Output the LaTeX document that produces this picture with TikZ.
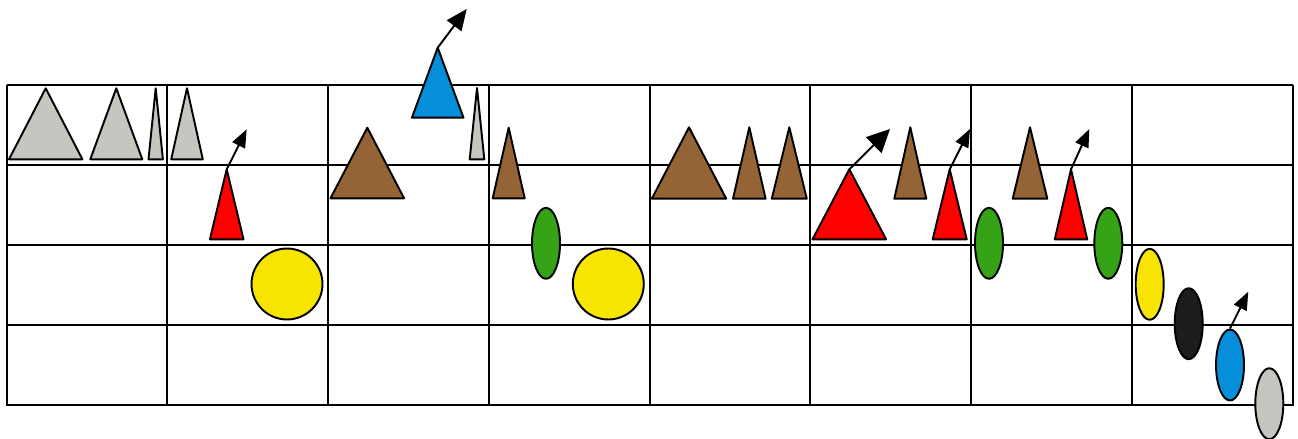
\documentclass[tikz,border=0pt]{standalone}
\usepackage{tikz}
\usetikzlibrary{arrows.meta, shapes.geometric}
\definecolor{stone}{RGB}{198,197,192}
\definecolor{bark}{RGB}{148,99,54}
\definecolor{sky}{RGB}{5,142,217}
\definecolor{leaf}{RGB}{54,163,23}
\definecolor{sun}{RGB}{247,228,0}
\definecolor{coal}{RGB}{28,28,28}
% colour, name, apex x, apex y, half width, base y
\newcommand{\cone}[6]{%
  \coordinate (#2) at (#3,#4);
  \draw[piece, fill=#1] (#2) -- (#3+#5,#6) -- (#3-#5,#6) -- cycle;}

\begin{document}
\begin{tikzpicture}[x=0.02cm, y=-0.02cm,
    piece/.style={line width=1.1pt, line join=round},
    gridline/.style={line width=1.1pt},
    egg/.style={ellipse, draw, piece, inner sep=0pt, minimum width=0.56cm, minimum height=1.42cm},
    ball/.style={circle, draw, piece, inner sep=0pt, minimum size=1.42cm},
    pointer/.style={line width=1.1pt, -{Triangle[length=0.36cm, width=0.28cm]}},
    bigpointer/.style={line width=1.1pt, -{Triangle[length=0.46cm, width=0.44cm]}},
    midpointer/.style={line width=1.1pt, -{Triangle[length=0.42cm, width=0.36cm]}}]
  \useasboundingbox (0,0) rectangle (1298,439);
  % board
  \foreach \i in {0,...,8}
    \draw[gridline] (6.7+\i*160.75,85) -- (6.7+\i*160.75,405.5);
  \foreach \j in {0,...,4}
    \draw[gridline] (6.7,85+\j*80.1) -- (1292.7,85+\j*80.1);
  % column 1
  \cone{stone}{stoneA}{45.7}{88.3}{36.7}{159.3}
  \cone{stone}{stoneB}{116.3}{88.3}{26}{159.3}
  \cone{stone}{stoneC}{155.7}{88.3}{7.2}{159.3}
  % column 2
  \cone{stone}{stoneD}{187}{88.3}{15.8}{159.3}
  \cone{red}{redA}{226.7}{169.3}{16.8}{239.3}
  \coordinate (redAtip) at (246.7,129.3);
  \draw[pointer] (redA) -- (redAtip);
  \node[ball, fill=sun] (sunA) at (287,284) {};
  % column 3
  \cone{bark}{barkA}{367.3}{127.7}{36.8}{198.3}
  \cone{sky}{skyA}{437.7}{47.7}{25.8}{117.7}
  \coordinate (skyAtip) at (466.7,9);
  \draw[midpointer] (skyA) -- (skyAtip);
  \cone{stone}{stoneE}{477}{88}{7.3}{159.3}
  % column 4
  \cone{bark}{barkB}{508.7}{127.7}{16}{198.3}
  \node[egg, fill=leaf] (leafA) at (546,243.3) {};
  \node[ball, fill=sun] (sunB) at (608.3,284) {};
  % column 5
  \cone{bark}{barkC}{689}{127.3}{37.2}{198.7}
  \cone{bark}{barkD}{749.3}{127.3}{16.3}{198.7}
  \cone{bark}{barkE}{789.3}{127.3}{17.5}{198.7}
  % column 6
  \cone{red}{redB}{849.3}{169.3}{36.8}{239.3}
  \coordinate (redBtip) at (890,129);
  \draw[bigpointer] (redB) -- (redBtip);
  \cone{bark}{barkF}{910.3}{127.3}{16}{198.7}
  \cone{red}{redC}{949.7}{169.3}{17}{239.3}
  \coordinate (redCtip) at (970,129);
  \draw[pointer] (redC) -- (redCtip);
  % column 7
  \node[egg, fill=leaf] (leafB) at (989,243.3) {};
  \cone{bark}{barkG}{1030}{127.3}{17.3}{198.7}
  \cone{red}{redD}{1071}{169.3}{16.2}{239.3}
  \coordinate (redDtip) at (1089.3,129);
  \draw[pointer] (redD) -- (redDtip);
  \node[egg, fill=leaf] (leafC) at (1108.3,243.3) {};
  % column 8
  \node[egg, fill=sun] (sunC) at (1149.7,284.3) {};
  \node[egg, fill=coal] (coalA) at (1188.7,323.7) {};
  \node[egg, fill=sky] (skyB) at (1230,365) {};
  \coordinate (skyBtip) at (1248.3,291.7);
  \draw[pointer] (skyB.north) -- (skyBtip);
  \node[egg, fill=stone] (stoneF) at (1269.3,403.7) {};
\end{tikzpicture}
\end{document}
